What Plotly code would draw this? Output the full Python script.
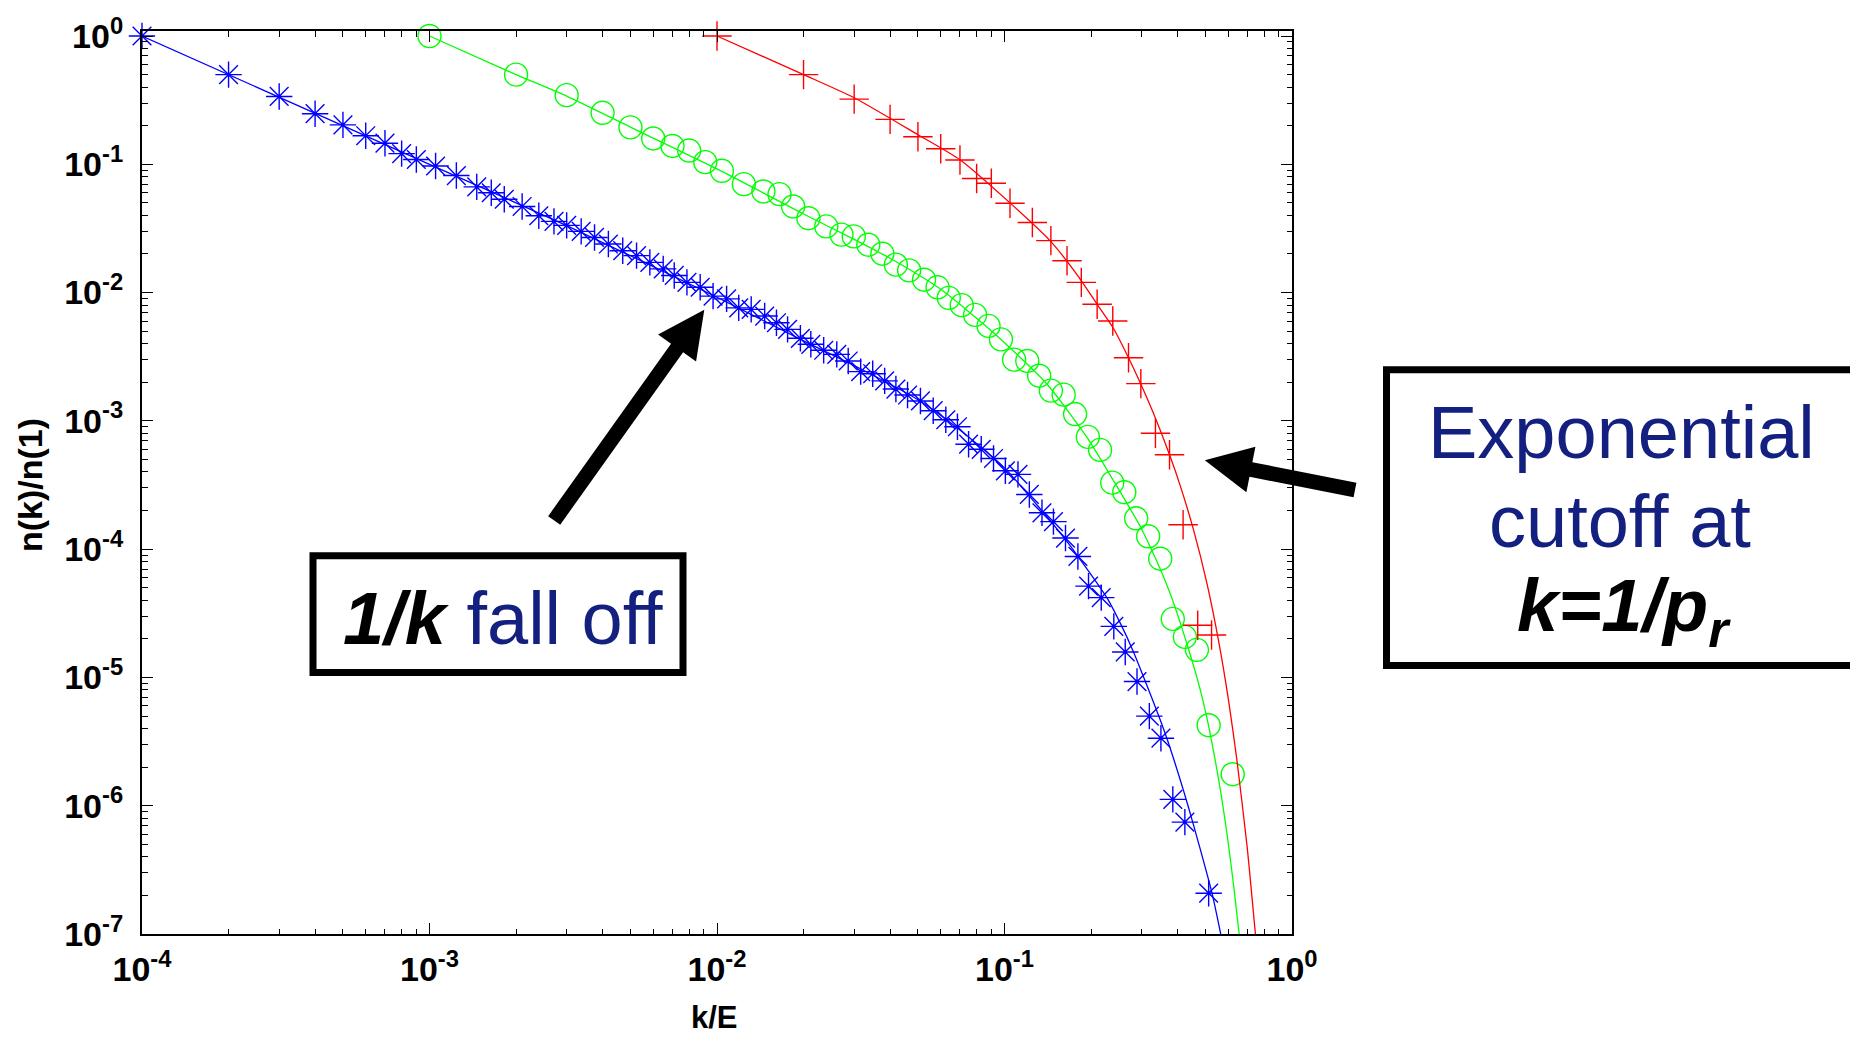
import math
import plotly.graph_objects as go

# ---------------- data ----------------
blue_k = [1e-4, 2e-4, 3e-4, 4e-4, 5e-4, 6e-4, 7e-4, 8e-4, 9e-4, 1.05e-3,
          1.24e-3, 1.46e-3, 1.64e-3, 1.82e-3, 2.1e-3, 2.4e-3, 2.71e-3, 3.0e-3, 3.37e-3, 3.75e-3,
          4.19e-3, 4.7e-3, 5.25e-3, 5.84e-3, 6.5e-3, 7.1e-3, 7.86e-3, 8.74e-3, 9.69e-3, 1.08e-2,
          1.19e-2, 1.315e-2, 1.465e-2, 1.61e-2, 1.76e-2, 1.95e-2, 2.12e-2, 2.35e-2, 2.61e-2, 2.86e-2,
          3.16e-2, 3.48e-2, 3.83e-2, 4.19e-2, 4.6e-2, 5.1e-2, 5.65e-2, 6.25e-2, 6.86e-2, 7.5e-2,
          8.3e-2, 9.16e-2, 0.1007, 0.1114, 0.122, 0.135, 0.148, 0.163, 0.18, 0.196,
          0.217, 0.24, 0.263, 0.289, 0.319, 0.35, 0.385, 0.424, 0.513]
blue_n = [1.0, 0.5, 0.338, 0.248, 0.203, 0.167, 0.146, 0.121, 0.109, 0.097,
          0.0817, 0.0667, 0.060, 0.0534, 0.0469, 0.0397, 0.0359, 0.0334, 0.030, 0.0269,
          0.0239, 0.0212, 0.0194, 0.0172, 0.0153, 0.0136, 0.0120, 0.0110, 0.00938, 0.00893,
          0.0076, 0.00739, 0.00656, 0.00582, 0.00517, 0.0044, 0.00395, 0.00355, 0.0033, 0.00293,
          0.00242, 0.00233, 0.00205, 0.00177, 0.00159, 0.00143, 0.0012, 0.00102, 0.0009, 0.000658,
          0.0006, 0.000509, 0.000408, 0.000383, 0.000267, 0.000192, 0.000164, 0.000122, 8.77e-5, 5.15e-5,
          4.19e-5, 2.5e-5, 1.58e-5, 9.29e-6, 4.99e-6, 3.36e-6, 1.12e-6, 7.45e-7, 2.08e-7]

blue_fit_k = [1e-4, 1e-3, 3e-3, 1e-2, 2e-2, 3e-2, 5e-2, 7e-2, 0.1, 0.13, 0.16, 0.18,
              0.227, 0.256, 0.281, 0.309, 0.344, 0.367, 0.42, 0.455, 0.527, 0.565]
blue_fit_n = [1.0, 0.1, 0.0333, 0.0092, 0.0042, 0.0027, 0.00146, 0.00085, 0.00043, 0.00022, 0.000125, 8.8e-5,
              4.19e-5, 2.5e-5, 1.58e-5, 9.3e-6, 5.0e-6, 3.36e-6, 1.3e-6, 7.0e-7, 2.08e-7, 1e-7]

green_k = [1e-3, 2e-3, 3e-3, 4e-3, 5e-3, 6e-3, 7e-3, 8e-3, 9.1e-3, 1.04e-2,
           1.24e-2, 1.45e-2, 1.65e-2, 1.84e-2, 2.08e-2, 2.4e-2, 2.71e-2, 2.99e-2, 3.36e-2, 3.76e-2,
           4.19e-2, 4.66e-2, 5.25e-2, 5.85e-2, 6.4e-2, 7.1e-2, 7.9e-2, 8.8e-2, 9.72e-2, 0.108,
           0.12, 0.132, 0.145, 0.1606, 0.176, 0.195, 0.215, 0.237, 0.261, 0.287,
           0.316, 0.348, 0.385, 0.424, 0.467, 0.513, 0.622]
green_n = [1.0, 0.5, 0.346, 0.252, 0.194, 0.159, 0.139, 0.128, 0.104, 0.089,
           0.070, 0.0614, 0.0585, 0.0469, 0.038, 0.0328, 0.0283, 0.0274, 0.0236, 0.0201,
           0.0165, 0.0149, 0.0126, 0.011, 0.0091, 0.00798, 0.0067, 0.0055, 0.00432, 0.0030,
           0.00293, 0.00225, 0.00172, 0.0016, 0.00113, 0.00075, 0.000594, 0.00033, 0.000278, 0.000174,
           0.000126, 8.42e-5, 2.86e-5, 2.07e-5, 1.64e-5, 4.24e-6, 1.76e-6]

green_fit_k = [1e-3, 2e-3, 3e-3, 5e-3, 1e-2, 2e-2, 3e-2, 4e-2, 0.06, 0.0916, 0.1406, 0.1936,
               0.2397, 0.2967, 0.348, 0.38, 0.408, 0.437, 0.467, 0.49, 0.513, 0.54, 0.567,
               0.595, 0.625, 0.655]
green_fit_n = [1.0, 0.5, 0.34, 0.195, 0.092, 0.041, 0.026, 0.0185, 0.0106, 0.00486, 0.00193, 0.000743,
               0.00034, 0.00015, 7.0e-5, 4.3e-5, 2.7e-5, 1.65e-5, 1.0e-5, 6.6e-6, 4.17e-6, 2.3e-6, 1.22e-6,
               5.9e-7, 2.5e-7, 1e-7]

red_k = [0.01, 0.02, 0.03, 0.04, 0.05, 0.06, 0.07, 0.08, 0.09, 0.1045,
         0.125, 0.145, 0.165, 0.185, 0.21, 0.238, 0.27, 0.298, 0.335, 0.375,
         0.418, 0.47, 0.525]
red_n = [1.0, 0.5, 0.322, 0.224, 0.164, 0.132, 0.108, 0.0775, 0.0712, 0.0497,
         0.0352, 0.0254, 0.0177, 0.012, 0.0081, 0.006, 0.0031, 0.00195, 0.0008, 0.000545,
         0.000155, 2.55e-5, 2.14e-5]

red_fit_k = [0.01, 0.02, 0.03, 0.05, 0.0702, 0.1047, 0.144, 0.18, 0.21, 0.24, 0.27, 0.30, 0.33,
             0.377, 0.409, 0.455, 0.506, 0.556, 0.603, 0.644, 0.698, 0.746]
red_fit_n = [1.0, 0.5, 0.33, 0.17, 0.108, 0.0498, 0.0254, 0.0135, 0.0081, 0.0052, 0.0031, 0.00187, 0.00114,
             0.000527, 0.00031, 0.00014, 5.4e-5, 1.9e-5, 6.4e-6, 2.22e-6, 4.8e-7, 1e-7]

x_tick_vals = [1e-4, 1e-3, 1e-2, 1e-1, 1e0]
x_tick_text = ["10<sup>-4</sup>", "10<sup>-3</sup>", "10<sup>-2</sup>", "10<sup>-1</sup>", "10<sup>0</sup>"]
y_tick_vals = [1e-7, 1e-6, 1e-5, 1e-4, 1e-3, 1e-2, 1e-1, 1e0]
y_tick_text = ["10<sup>-7</sup>", "10<sup>-6</sup>", "10<sup>-5</sup>", "10<sup>-4</sup>",
               "10<sup>-3</sup>", "10<sup>-2</sup>", "10<sup>-1</sup>", "10<sup>0</sup>"]
x_minor = [m * 10.0 ** e for e in range(-4, 0) for m in range(2, 10)]
y_minor = [m * 10.0 ** e for e in range(-7, 0) for m in range(2, 10)]

x_title = "k/E"
y_title = "n(k)/n(1)"

# ---------------- layout geometry ----------------
W, H = 1850, 1037
ML, MR, MT, MB = 142, 558, 29, 103
PX0, PX1 = ML, W - MR
PY0, PY1 = MT, H - MB

FONT = "Arial, Liberation Sans, Helvetica, sans-serif"
NAVY = "#13207f"


def px(x):
    return (x - PX0) / (PX1 - PX0)


def py(y):
    return (PY1 - y) / (PY1 - PY0)


def arrow_path(tail, tip, half_w=7.4, head_len=47.0, head_half=23.3):
    dx, dy = tip[0] - tail[0], tip[1] - tail[1]
    ln = math.hypot(dx, dy)
    ux, uy = dx / ln, dy / ln
    nx, ny = -uy, ux
    bx, by = tip[0] - head_len * ux, tip[1] - head_len * uy
    pts = [
        (tail[0] + half_w * nx, tail[1] + half_w * ny),
        (bx + half_w * nx, by + half_w * ny),
        (bx + head_half * nx, by + head_half * ny),
        tip,
        (bx - head_half * nx, by - head_half * ny),
        (bx - half_w * nx, by - half_w * ny),
        (tail[0] - half_w * nx, tail[1] - half_w * ny),
    ]
    return "M " + " L ".join(f"{px(a):.5f},{py(b):.5f}" for a, b in pts) + " Z"


fig = go.Figure()

series = [
    (blue_fit_k, blue_fit_n, blue_k, blue_n, "#0000ff", "asterisk-open", 22),
    (green_fit_k, green_fit_n, green_k, green_n, "#00ff00", "circle-open", 23),
    (red_fit_k, red_fit_n, red_k, red_n, "#ff0000", "cross-thin-open", 21),
]
for fk, fn, mk, mn, col, sym, size in series:
    fig.add_trace(go.Scatter(x=fk, y=fn, mode="lines",
                             line=dict(color=col, width=1.3, shape="spline", smoothing=0.6),
                             hoverinfo="skip"))
    fig.add_trace(go.Scatter(x=mk, y=mn, mode="markers", cliponaxis=False,
                             marker=dict(symbol=sym, size=size, color=col,
                                         line=dict(color=col, width=1.4))))

axis_common = dict(
    type="log", showgrid=False, zeroline=False,
    showline=True, linecolor="black", linewidth=2, mirror="ticks",
    ticks="inside", ticklen=11, tickwidth=1.3, tickcolor="black",
    tickmode="array",
    minor=dict(ticks="inside", ticklen=5.5, tickwidth=1.3, tickcolor="black", showgrid=False),
)

fig.update_xaxes(range=[-4, 0], tickvals=x_tick_vals, ticktext=x_tick_text,
                 ticklabelstandoff=4,
                 tickfont=dict(family=FONT, size=34, color="black", weight="bold"),
                 **axis_common)
fig.update_xaxes(minor_tickvals=x_minor)
fig.update_yaxes(range=[-7, 0.039], tickvals=y_tick_vals, ticktext=y_tick_text,
                 ticklabelstandoff=10,
                 tickfont=dict(family=FONT, size=34, color="black", weight="bold"),
                 **axis_common)
fig.update_yaxes(minor_tickvals=y_minor)

shapes = [
    dict(type="rect", xref="paper", yref="paper",
         x0=px(313), x1=px(683), y0=py(672), y1=py(555),
         line=dict(color="black", width=7), fillcolor="white", layer="above"),
    dict(type="rect", xref="paper", yref="paper",
         x0=px(1386.5), x1=px(1880), y0=py(664.8), y1=py(368.5),
         line=dict(color="black", width=7), fillcolor="white", layer="above"),
    dict(type="path", xref="paper", yref="paper",
         path=arrow_path((554.2, 519.5), (704.3, 308.3)),
         line=dict(width=0), fillcolor="black", layer="above"),
    dict(type="path", xref="paper", yref="paper",
         path=arrow_path((1355.0, 489.0), (1204.8, 459.3)),
         line=dict(width=0), fillcolor="black", layer="above"),
]

annotations = [
    dict(xref="paper", yref="paper", x=px(503), y=py(618), xanchor="center", yanchor="middle",
         text=f"<b><i>1/k</i></b> <span style='color:{NAVY}'>fall off</span>",
         showarrow=False, font=dict(family=FONT, size=74, color="black")),
    dict(xref="paper", yref="paper", x=px(1621), y=py(431), xanchor="center", yanchor="middle",
         text="Exponential", showarrow=False, font=dict(family=FONT, size=74, color=NAVY)),
    dict(xref="paper", yref="paper", x=px(1620), y=py(521), xanchor="center", yanchor="middle",
         text="cutoff at", showarrow=False, font=dict(family=FONT, size=74, color=NAVY)),
    dict(xref="paper", yref="paper", x=px(1624), y=py(610), xanchor="center", yanchor="middle",
         text="<b><i>k=1/p<sub>r</sub></i></b>", showarrow=False,
         font=dict(family=FONT, size=74, color="black")),
    dict(xref="paper", yref="paper", x=px(714), y=py(1018), xanchor="center", yanchor="middle",
         text=f"<b>{x_title}</b>", showarrow=False, font=dict(family=FONT, size=31, color="black")),
    dict(xref="paper", yref="paper", x=px(30), y=py(484), xanchor="center", yanchor="middle",
         text=f"<b>{y_title}</b>", textangle=-90, showarrow=False,
         font=dict(family=FONT, size=34, color="black")),
]

fig.update_layout(
    width=W, height=H,
    margin=dict(l=ML, r=MR, t=MT, b=MB, pad=0),
    paper_bgcolor="white", plot_bgcolor="white",
    showlegend=False,
    shapes=shapes, annotations=annotations,
)

fig.write_html("out.html",
               config={"displayModeBar": False},
               post_script="document.body.style.margin='0px';document.body.style.overflow='hidden';")
